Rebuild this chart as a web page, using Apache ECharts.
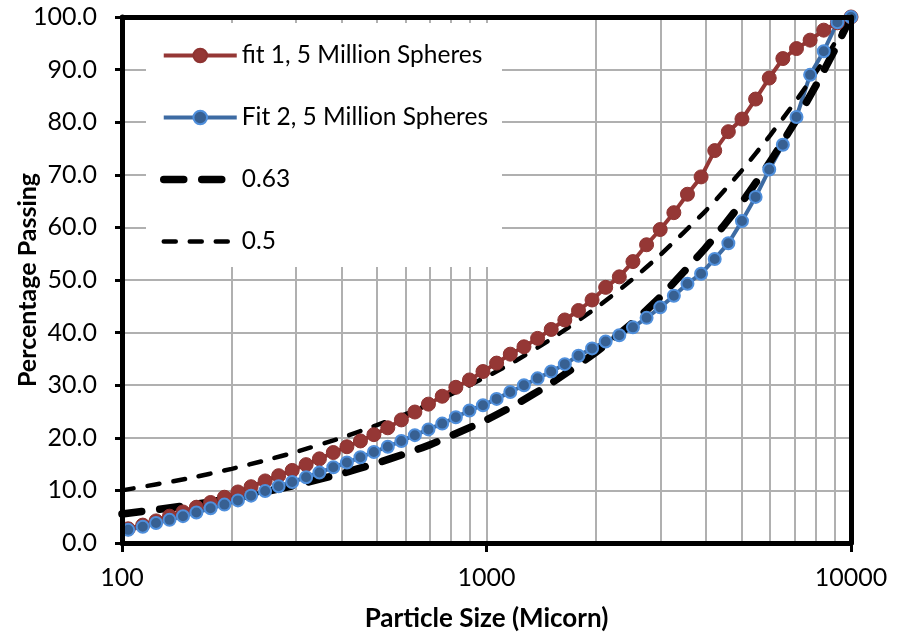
<!DOCTYPE html>
<html>
<head>
<meta charset="utf-8">
<script src="https://cdn.jsdelivr.net/npm/echarts@6/dist/echarts.min.js"></script>
<style>
  html, body { margin: 0; padding: 0; background: #ffffff; }
  #chart { width: 905px; height: 635px; }
</style>
</head>
<body>
<div id="chart"></div>
<script>
// Particle sizes (micron) of the simulated sphere packings
const sizes = [104, 114, 124, 135, 147, 160, 175, 191, 208, 226, 247, 269, 293, 320, 348, 380,
  414, 451, 491, 536, 584, 636, 693, 756, 824, 898, 978, 1066, 1162, 1267, 1381, 1505, 1640,
  1788, 1948, 2123, 2314, 2522, 2749, 2996, 3266, 3559, 3879, 4228, 4608, 5022, 5474, 5966,
  6502, 7087, 7724, 8418, 9175, 10000];

// Percentage passing, fit 1
const fit1 = [2.7, 3.4, 4.2, 5.1, 5.9, 6.8, 7.7, 8.7, 9.7, 10.7, 11.8, 12.8, 13.8, 14.9, 16.0,
  17.2, 18.3, 19.4, 20.6, 21.9, 23.4, 24.9, 26.4, 27.9, 29.6, 31.0, 32.6, 34.2, 35.9, 37.3,
  38.9, 40.6, 42.4, 44.2, 46.2, 48.6, 50.6, 53.5, 56.7, 59.6, 62.8, 66.3, 69.6, 74.6, 78.2,
  80.6, 84.4, 88.4, 92.1, 94.0, 95.6, 97.5, 98.9, 100];

// Percentage passing, fit 2
const fit2 = [2.5, 3.1, 3.8, 4.4, 5.1, 5.8, 6.6, 7.3, 8.1, 9.0, 9.9, 10.8, 11.6, 12.5, 13.4,
  14.4, 15.3, 16.3, 17.3, 18.3, 19.4, 20.5, 21.6, 22.7, 23.9, 25.2, 26.2, 27.4, 28.7, 30.0,
  31.3, 32.6, 34.0, 35.6, 37.0, 38.3, 39.5, 41.0, 42.8, 44.8, 47.0, 49.3, 51.2, 54.0, 57.0,
  61.2, 65.8, 71.0, 75.7, 81.0, 89.0, 93.5, 99.0, 100];

// Reference gradation curves (exponent 0.63 and 0.5)
const gradSizes = [100, 150, 200, 250, 300, 400, 500, 600, 700, 800, 1000, 1200, 1500, 2000,
  2500, 3000, 4000, 5000, 6000, 7000, 8000, 9000, 10000];
const grad063 = [5.5, 7.1, 8.5, 9.8, 11.0, 13.2, 15.2, 17.0, 18.7, 20.4, 23.4, 26.3, 30.3,
  36.3, 41.7, 46.8, 56.2, 64.6, 72.5, 79.9, 86.9, 93.6, 100];
const grad05 = [10.0, 12.2, 14.1, 15.8, 17.3, 20.0, 22.4, 24.5, 26.5, 28.3, 31.6, 34.6, 38.7,
  44.7, 50.0, 54.8, 63.2, 70.7, 77.5, 83.7, 89.4, 94.9, 100];

// Vertical grid lines of the log axis (majors and 2..9 minors)
const gridSizes = [200, 300, 400, 500, 600, 700, 800, 900, 1000,
  2000, 3000, 4000, 5000, 6000, 7000, 8000, 9000];

const seriesNames = ['fit 1, 5 Million Spheres', 'Fit 2, 5 Million Spheres', '0.63', '0.5'];

const FONT = 'Lato';
const GRID_COLOR = '#b0b0b0';

const RED = '#953735';
const BLUE_LINE = '#3d6ba3';
const BLUE_FILL = '#376092';
const BLUE_EDGE = '#4f8fdc';

const THICK_W = 7.5;
const THIN_W = 4.5;

const chart = echarts.init(document.getElementById('chart'), null, { renderer: 'canvas' });

const pairs = (xs, ys) => xs.map((x, i) => [x, ys[i]]);

const option = {
  animation: false,
  backgroundColor: '#ffffff',
  textStyle: { fontFamily: FONT },
  grid: {
    left: 122, right: 54, top: 17, bottom: 92,
    containLabel: false,
    outerBoundsMode: 'none'
  },
  graphic: [{
    // white panel behind the legend
    type: 'rect',
    z: 1,
    silent: true,
    shape: { x: 146, y: 23, width: 356, height: 244 },
    style: { fill: '#ffffff' }
  }],
  legend: {
    data: [
      { name: seriesNames[0], lineStyle: { width: 4 } },
      { name: seriesNames[1], lineStyle: { width: 4 } },
      { name: seriesNames[2], lineStyle: { width: THICK_W }, itemStyle: { opacity: 0 } },
      { name: seriesNames[3], lineStyle: { width: THIN_W }, itemStyle: { opacity: 0 } }
    ],
    orient: 'vertical',
    left: 160,
    top: 43,
    itemWidth: 73,
    itemHeight: 17,
    itemGap: 37,
    itemTextGap: 3,
    padding: 0,
    z: 5,
    textStyle: { fontFamily: FONT, fontSize: 24.5, color: '#000000', lineHeight: 24 }
  },
  xAxis: [{
    type: 'log',
    logBase: 10,
    min: 100,
    max: 10000,
    position: 'bottom',
    z: 3,
    axisLine: { show: true, onZero: false, lineStyle: { color: '#000000', width: 5 } },
    axisTick: { show: true, inside: false, length: 9, lineStyle: { color: '#000000', width: 3 } },
    axisLabel: {
      color: '#000000', fontFamily: FONT, fontSize: 25, margin: 22,
      formatter: v => String(Math.round(v))
    },
    splitLine: { show: false },
    name: 'Particle Size (Micorn)',
    nameLocation: 'middle',
    nameGap: 63,
    nameMoveOverlap: false,
    nameTextStyle: { color: '#000000', fontFamily: FONT, fontSize: 26, fontWeight: 'bold' }
  }, {
    type: 'log',
    logBase: 10,
    min: 100,
    max: 10000,
    position: 'top',
    z: 3,
    axisLine: { show: true, onZero: false, lineStyle: { color: '#000000', width: 5 } },
    axisTick: { show: false },
    axisLabel: { show: false },
    splitLine: { show: false }
  }],
  yAxis: [{
    type: 'value',
    min: 0,
    max: 100,
    interval: 10,
    z: 0,
    axisLine: { show: false },
    axisTick: { show: false },
    axisLabel: { show: false },
    splitLine: {
      show: true, showMinLine: false, showMaxLine: false,
      lineStyle: { color: GRID_COLOR, width: 2 }
    }
  }, {
    type: 'value',
    min: 0,
    max: 100,
    interval: 10,
    position: 'left',
    z: 3,
    axisLine: { show: true, onZero: false, lineStyle: { color: '#000000', width: 5 } },
    axisTick: { show: true, inside: false, length: 7, lineStyle: { color: '#000000', width: 3 } },
    axisLabel: {
      color: '#000000', fontFamily: FONT, fontSize: 25, margin: 25,
      formatter: v => v.toFixed(1)
    },
    splitLine: { show: false },
    name: 'Percentage Passing',
    nameLocation: 'middle',
    nameRotate: 90,
    nameGap: 82,
    nameMoveOverlap: false,
    nameTextStyle: { color: '#000000', fontFamily: FONT, fontSize: 25, fontWeight: 'bold' }
  }, {
    type: 'value',
    min: 0,
    max: 100,
    interval: 10,
    position: 'right',
    z: 3,
    axisLine: { show: true, onZero: false, lineStyle: { color: '#000000', width: 5 } },
    axisTick: { show: false },
    axisLabel: { show: false },
    splitLine: { show: false }
  }],
  series: [{
    name: 'gridlines',
    type: 'line',
    data: [],
    z: 0,
    silent: true,
    markLine: {
      z: 0,
      silent: true,
      animation: false,
      symbol: 'none',
      label: { show: false },
      emphasis: { disabled: true },
      lineStyle: { color: GRID_COLOR, width: 2, type: 'solid' },
      data: gridSizes.map(v => ({ xAxis: v }))
    }
  }, {
    name: seriesNames[0],
    type: 'line',
    data: pairs(sizes, fit1),
    z: 2,
    symbol: 'circle',
    symbolSize: 14,
    showAllSymbol: true,
    lineStyle: { color: RED, width: 4 },
    itemStyle: { color: RED, borderColor: '#8e3331', borderWidth: 1 }
  }, {
    name: seriesNames[1],
    type: 'line',
    data: pairs(sizes, fit2),
    z: 2,
    symbol: 'circle',
    symbolSize: 12,
    showAllSymbol: true,
    lineStyle: { color: BLUE_LINE, width: 4 },
    itemStyle: { color: BLUE_FILL, borderColor: BLUE_EDGE, borderWidth: 2 }
  }, {
    name: seriesNames[2],
    type: 'line',
    data: pairs(gradSizes, grad063),
    z: 2,
    symbol: 'none',
    smooth: 0.2,
    lineStyle: { color: '#000000', width: THICK_W, type: [20, 18], cap: 'round' },
    itemStyle: { color: '#000000' }
  }, {
    name: seriesNames[3],
    type: 'line',
    data: pairs(gradSizes, grad05),
    z: 2,
    symbol: 'none',
    smooth: 0.2,
    lineStyle: { color: '#000000', width: THIN_W, type: [12, 14], cap: 'round' },
    itemStyle: { color: '#000000' }
  }]
};

chart.setOption(option);
</script>
</body>
</html>
